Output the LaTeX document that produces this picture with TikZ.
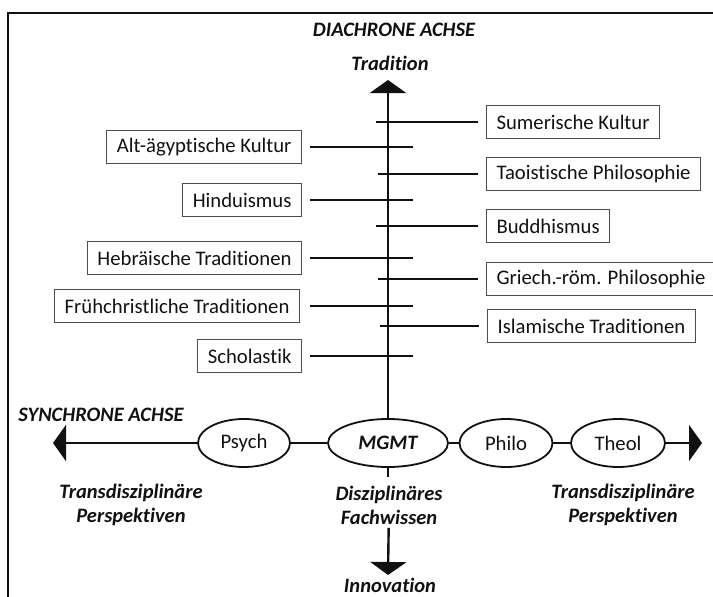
\documentclass[tikz,border=0pt]{standalone}
\usepackage{fontspec}
\setmainfont{Carlito}[Ligatures=NoCommon]
\usetikzlibrary{arrows.meta,shapes.geometric}
\definecolor{ink}{HTML}{111111}
\definecolor{boxline}{HTML}{4D4D4D}

\begin{document}
\begin{tikzpicture}[x=1pt,y=-1pt,
   font=\fontsize{20.7}{24}\selectfont,
   item/.style={draw=boxline,line width=1.1pt,minimum height=33pt,
                inner xsep=10pt,inner ysep=0pt,text=ink},
   disc/.style={ellipse,draw=ink,line width=1.8pt,inner sep=1pt,
                minimum height=48pt,text=ink},
   axislabel/.style={font=\fontsize{20.5}{24}\selectfont\bfseries\itshape,
                     align=center,text=ink},
   axis/.style={draw=ink,line width=2.4pt},
   tick/.style={draw=ink,line width=2.4pt},
   tip/.style={-{Triangle[length=13pt,width=36pt]}}]
  \useasboundingbox (0,0) rectangle (713,597);
  % frame of the figure, cut off by the page edge
  \draw[ink,line width=2.2pt] (8,597) -- (8,13) -- (713,13);

  % synchronic axis
  \node[disc,minimum width=120pt,font=\fontsize{20.5}{24}\selectfont\bfseries\itshape] (mgmt) at (388,443) {MGMT};
  \node[disc,minimum width=92pt] (psych) at (244,443) {Psych};
  \node[disc,minimum width=93pt] (philo) at (506,443) {Philo};
  \node[disc,minimum width=94pt] (theol) at (618,443) {Theol};
  \coordinate (westend) at (53,443);
  \coordinate (eastend) at (702,443);
  \draw[axis,tip] (psych) -- (westend);
  \draw[axis] (psych) -- (mgmt);
  \draw[axis] (mgmt) -- (philo);
  \draw[axis] (philo) -- (theol);
  \draw[axis,tip] (theol) -- (eastend);

  \node[axislabel] (synlabel) at (101,415) {SYNCHRONE ACHSE};
  \node[axislabel] (transleft) at (131,505) {Transdisziplinäre\\Perspektiven};
  \node[axislabel] (transright) at (623,505) {Transdisziplinäre\\Perspektiven};

  % diachronic axis
  \coordinate (northend) at (388,80);
  \coordinate (stub) at (388,477);
  \coordinate (southend) at (388,575);
  \node[axislabel] (dialabel) at (394,30) {DIACHRONE ACHSE};
  \node[axislabel] (tradition) at (390,63) {Tradition};
  \node[axislabel] (fachwissen) at (389,505) {Disziplinäres\\Fachwissen};
  \node[axislabel] (innovation) at (390,585) {Innovation};
  \draw[axis,tip] (mgmt) -- (northend);
  \draw[axis] (mgmt) -- (stub);
  \draw[axis,tip] (fachwissen) -- (southend);

  % traditions, left side
  \node[item,anchor=east] (egypt) at (302,147) {Alt-ägyptische Kultur};
  \node[item,anchor=east] (hindu) at (302,200) {Hinduismus};
  \node[item,anchor=east] (hebrew) at (302,258) {Hebräische Traditionen};
  \node[item,anchor=east] (earlychr) at (300,306) {Frühchristliche Traditionen};
  \node[item,anchor=east] (scholas) at (302,356) {Scholastik};
  \draw[tick] ([xshift=8pt]egypt.east) -- ++(103,0);
  \draw[tick] ([xshift=8pt]hindu.east) -- ++(103,0);
  \draw[tick] ([xshift=8pt]hebrew.east) -- ++(103,0);
  \draw[tick] ([xshift=10pt]earlychr.east) -- ++(103,0);
  \draw[tick] ([xshift=8pt]scholas.east) -- ++(103,0);

  % traditions, right side
  \node[item,anchor=west] (sumer) at (486,122) {Sumerische Kultur};
  \node[item,anchor=west] (tao) at (486,174) {Taoistische Philosophie};
  \node[item,anchor=west] (buddh) at (486,226) {Buddhismus};
  \node[item,anchor=west] (greco) at (486,279) {Griech.-röm. Philosophie};
  \node[item,anchor=west] (islam) at (487,326) {Islamische Traditionen};
  \draw[tick] ([xshift=-8pt]sumer.west) -- ++(-102,0);
  \draw[tick] ([xshift=-8pt]tao.west) -- ++(-100,0);
  \draw[tick] ([xshift=-8pt]buddh.west) -- ++(-102,0);
  \draw[tick] ([xshift=-8pt]greco.west) -- ++(-100,0);
  \draw[tick] ([xshift=-8pt]islam.west) -- ++(-99,0);
\end{tikzpicture}
\end{document}
